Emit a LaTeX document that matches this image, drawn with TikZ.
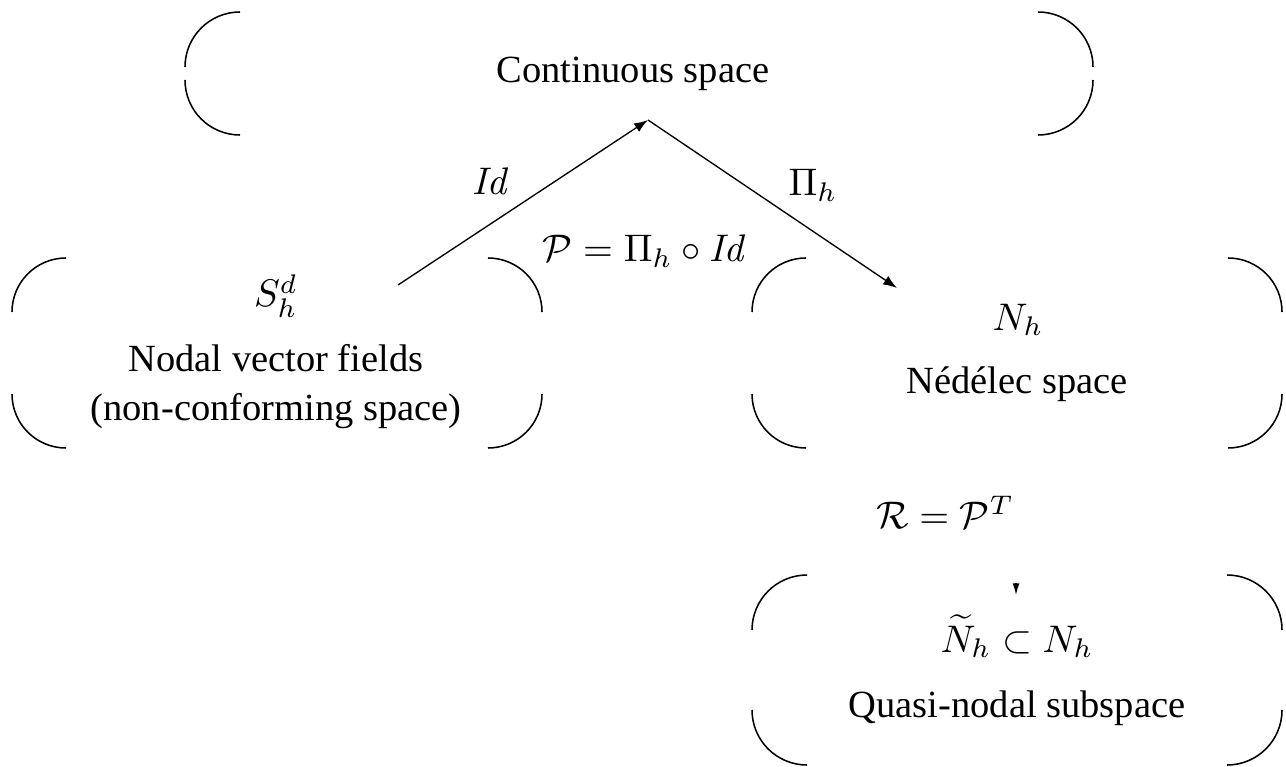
\documentclass[tikz,border=0pt]{standalone}
\usepackage[no-math]{fontspec}
\setmainfont{Liberation Serif}
\usetikzlibrary{arrows.meta}
\newcommand\bracketbox[5]{% left x, top y, right x, bottom y, radius px
  \draw[bk] ({#1+#5},#2) arc[start angle=90,end angle=180,radius=#5*0.26pt];
  \draw[bk] (#1,{#4-#5}) arc[start angle=180,end angle=270,radius=#5*0.26pt];
  \draw[bk] ({#3-#5},#2) arc[start angle=90,end angle=0,radius=#5*0.26pt];
  \draw[bk] (#3,{#4-#5}) arc[start angle=0,end angle=-90,radius=#5*0.26pt];
}
\begin{document}
\begin{tikzpicture}[x=0.26pt,y=-0.26pt,
  bk/.style={line width=0.4pt},
  lbl/.style={inner sep=0pt,anchor=base,font=\fontsize{10}{12}\selectfont},
  conn/.style={line width=0.35pt,-{Latex[length=3.6pt,width=2.6pt]}},
  tinyarr/.style={line width=0.35pt,-{Latex[length=3pt,width=1.8pt]}}]
\useasboundingbox (0,0) rectangle (1286,766);
% boxes
\bracketbox{185}{12}{1093}{135}{55}
\bracketbox{12}{258}{542}{448}{54}
\bracketbox{752}{258}{1282}{448}{54}
\bracketbox{752}{575}{1282}{765}{55}
% texts
\node[lbl] (cont) at (633,83) {Continuous space};
\node[lbl] (sh) at (276,307) {$S_h^d$};
\node[lbl] (shA) at (276,371) {Nodal vector fields};
\node[lbl] (shB) at (276,420) {(non-conforming space)};
\node[lbl] (nh) at (1018,330) {$N_h$};
\node[lbl] (nhA) at (1017,393) {Nédélec space};
\node[lbl] (nt) at (1017,652) {$\widetilde{N}_h\subset N_h$};
\node[lbl] (ntA) at (1017,717) {Quasi-nodal subspace};
\node[lbl] (id) at (491,195) {$\mathit{Id}$};
\node[lbl] (pih) at (813,196) {$\Pi_h$};
\node[lbl] (pdef) at (645,262) {$\mathcal{P}=\Pi_h\circ\mathit{Id}$};
\node[lbl] (rdef) at (945,528) {$\mathcal{R}=\mathcal{P}^T$};
% connectors
\coordinate (sstart) at (398,285);
\coordinate (apex) at (648,120);
\coordinate (nend) at (897,288);
\coordinate (rtop) at (1016,583);
\coordinate (rtip) at (1016,595);
\draw[conn] (sstart) -- (apex);
\draw[conn] (apex) -- (nend);
\draw[tinyarr] (rtop) -- (rtip);
\end{tikzpicture}
\end{document}
